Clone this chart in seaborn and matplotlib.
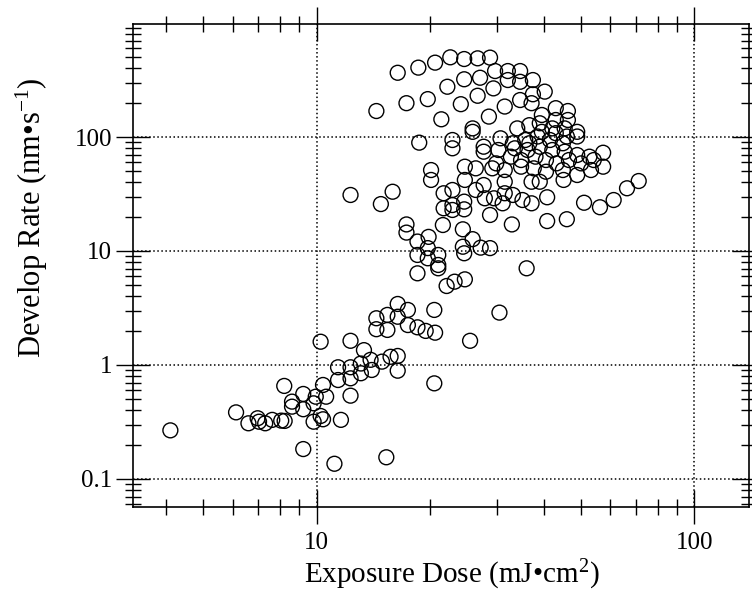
import numpy as np
import pandas as pd
import seaborn as sns
import matplotlib
matplotlib.use("Agg")
import matplotlib.pyplot as plt
from matplotlib.ticker import LogLocator, FuncFormatter, NullFormatter

# --- data (dose in mJ/cm2, rate in nm/s) ---
# upper branch (rate > ~40 nm/s)
dose_high = [14.4, 16.4, 17.3, 18.6, 19.7, 20.6, 21.4, 22.2, 22.6, 24.1,
             24.6, 24.6, 25.9, 25.9, 26.7, 26.7, 27.1, 28.6, 28.8, 29.4,
             29.7, 31.5, 32.1, 32.1, 34.6, 34.6, 37.4, 37.4, 40.2, 34.6,
             37.1, 43.0, 46.3, 39.5, 43.0, 46.3, 49.0, 49.0, 34.0, 36.6,
             39.0, 42.1, 45.4, 30.7, 33.1, 35.7, 38.5, 41.5, 44.9, 18.7,
             22.9, 22.9, 27.7, 27.7, 30.3, 33.5, 36.2, 39.0, 42.1, 45.4,
             49.0, 52.8, 57.4, 54.2, 50.2, 46.6, 43.2, 40.5, 38.0, 34.8,
             32.7, 29.9, 34.8, 37.6, 40.5, 44.9, 49.0, 53.3, 57.4, 24.7,
             26.4, 24.7, 20.1, 20.1, 29.2, 31.5, 31.5, 37.1, 39.0, 45.1,
             39.5, 43.0, 36.6, 46.0]
rate_high = [169, 366, 198, 406, 215, 449, 143, 276, 500, 194,
             483, 321, 119, 111, 490, 230, 331, 151, 497, 267,
             379, 185, 379, 316, 379, 305, 316, 237, 250, 211,
             198, 179, 169, 156, 141, 141, 111, 101, 119, 127,
             132, 119, 119, 97.4, 88.1, 94.1, 101, 94.1, 88.1, 89.2,
             94.1, 79.6, 82.2, 74.3, 76.9, 79.6, 76.9, 82.2, 76.9, 74.3,
             69.5, 67.2, 72.8, 62.8, 58.7, 62.8, 58.7, 62.8, 67.2, 62.8,
             67.2, 58.7, 54.9, 53.1, 49.6, 51.3, 46.4, 51.3, 54.9, 54.9,
             53.1, 42.0, 51.3, 42.0, 53.1, 51.3, 40.5, 40.5, 40.5, 42.0,
             111, 108, 88.1, 101]

# middle branch (rate ~4 - 40 nm/s)
dose_mid = [27.7, 22.9, 26.4, 21.7, 12.3, 15.9, 14.8, 27.9, 29.5, 31.5,
            33.1, 35.1, 37.1, 40.8, 31.1, 22.9, 22.9, 24.6, 24.6, 21.7,
            28.8, 51.1, 56.3, 61.2, 66.4, 71.3, 32.9, 40.8, 46.0, 21.6,
            24.4, 17.3, 17.3, 18.5, 19.8, 19.7, 18.5, 19.7, 21.0, 21.0,
            21.0, 18.5, 24.4, 24.6, 25.9, 27.2, 28.8, 36.0, 22.1, 23.2,
            24.7]
rate_mid = [37.9, 34.3, 34.3, 32.1, 31.0, 33.1, 25.8, 29.0, 29.0, 32.1,
            31.0, 28.0, 26.2, 29.6, 26.2, 25.3, 22.9, 27.1, 23.2, 23.7,
            20.7, 26.5, 24.2, 28.0, 35.5, 41.1, 17.1, 18.3, 19.0, 16.9,
            15.5, 17.1, 14.5, 12.1, 13.3, 10.6, 9.23, 8.63, 9.23, 7.54,
            7.05, 6.37, 10.9, 9.55, 12.7, 10.7, 10.6, 7.05, 4.93, 5.38,
            5.64]

# lower branch (rate < ~4 nm/s)
dose_low = [16.4, 17.45, 14.4, 15.4, 16.4, 17.45, 14.4, 15.4, 18.5, 19.45,
            20.6, 20.5, 30.5, 25.5, 10.25, 12.3, 13.35, 11.4, 12.3, 13.1,
            13.9, 14.9, 15.7, 16.4, 11.4, 12.3, 13.1, 14.0, 16.4, 12.3,
            20.5, 8.21, 9.22, 9.95, 10.4, 10.6, 9.82, 9.22, 8.61, 8.61,
            8.06, 7.63, 7.31, 6.98, 6.60, 7.04, 6.12, 8.23, 9.82, 10.4,
            10.25, 11.6, 4.10, 9.22, 11.15, 15.3]
rate_low = [3.43, 3.04, 2.57, 2.75, 2.65, 2.24, 2.06, 2.03, 2.14, 1.99,
            1.92, 3.04, 2.88, 1.63, 1.60, 1.63, 1.35, 0.955, 0.955, 1.03,
            1.11, 1.07, 1.18, 1.20, 0.738, 0.764, 0.846, 0.904, 0.891, 0.538,
            0.690, 0.655, 0.557, 0.527, 0.668, 0.527, 0.461, 0.409, 0.431, 0.477,
            0.325, 0.330, 0.308, 0.341, 0.308, 0.318, 0.384, 0.323, 0.318, 0.334,
            0.357, 0.330, 0.267, 0.183, 0.136, 0.155]

df = pd.DataFrame({
    "dose": dose_high + dose_mid + dose_low,
    "rate": rate_high + rate_mid + rate_low,
})

# --- style ---
sns.set_style("ticks")
plt.rcParams["font.family"] = ["Liberation Serif", "DejaVu Serif"]
plt.rcParams["mathtext.fontset"] = "custom"
plt.rcParams["mathtext.rm"] = "Liberation Serif"
plt.rcParams["mathtext.it"] = "Liberation Serif:italic"

fig = plt.figure(figsize=(7.52, 5.93), dpi=100)
ax = fig.add_axes([0.1769, 0.1455, 0.8191, 0.8135])

sns.scatterplot(data=df, x="dose", y="rate", ax=ax, marker="o", s=115,
                facecolor="none", edgecolor="black", linewidth=1.0,
                legend=False, zorder=3)

ax.set_xscale("log")
ax.set_yscale("log")
ax.set_xlim(3.265, 139.7)
ax.set_ylim(0.0571, 974)

for axis in (ax.xaxis, ax.yaxis):
    axis.set_major_locator(LogLocator(base=10))
    axis.set_minor_locator(LogLocator(base=10, subs=np.arange(2, 10)))
    axis.set_major_formatter(FuncFormatter(lambda v, pos: "%g" % v))
    axis.set_minor_formatter(NullFormatter())

ax.tick_params(which="both", direction="inout", top=True, right=True,
               color="black", labelsize=18, labelcolor="black")
ax.tick_params(which="major", length=24, width=1.0)
ax.tick_params(which="minor", length=11, width=1.0)
ax.tick_params(axis="y", which="major", pad=3)
ax.tick_params(axis="x", which="major", pad=6)

for sp in ax.spines.values():
    sp.set_visible(True)
    sp.set_color("black")
    sp.set_linewidth(1.2)

ax.grid(which="major", linestyle=":", color="black", linewidth=1.1)
ax.grid(which="minor", visible=False)
ax.set_axisbelow(True)

ax.set_xlabel("Exposure Dose (mJ•cm$^{2}$)", fontsize=21, color="black")
ax.set_ylabel("Develop Rate (nm•s$^{-1}$)", fontsize=22, color="black")
ax.xaxis.set_label_coords(0.518, -0.105)
ax.yaxis.set_label_coords(-0.135, 0.6)

fig.savefig("out.png", dpi=100)
